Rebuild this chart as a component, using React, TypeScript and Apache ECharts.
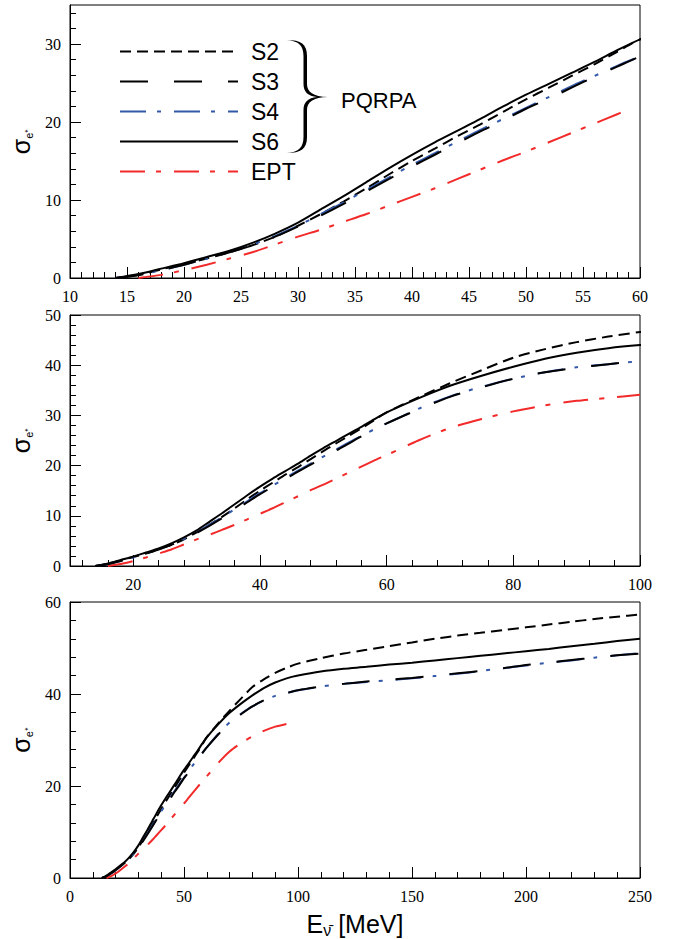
import React, { useEffect, useRef } from "react";
import * as echarts from "echarts";

// ---------------- data ----------------
const ENERGY = [14, 16, 18, 20, 22, 24, 26, 28, 30, 32, 34, 36, 38, 40, 42, 44, 46, 48, 50, 52, 54, 56, 58, 60, 65, 70, 75, 80, 85, 90, 95, 100, 110, 120, 130, 140, 150, 160, 170, 180, 190, 200, 210, 220, 230, 240, 250];
const S2 = [0, 0.4, 1.1, 1.8, 2.5, 3.3, 4.2, 5.3, 6.7, 8.2, 9.8, 11.5, 13.3, 15.0, 16.6, 18.2, 19.7, 21.3, 22.9, 24.4, 25.9, 27.4, 29.0, 30.6, 33.6, 36.4, 39.0, 41.5, 43.2, 44.6, 45.7, 46.6, 47.8, 48.8, 49.6, 50.4, 51.2, 52.0, 52.7, 53.3, 53.9, 54.5, 55.1, 55.7, 56.3, 56.8, 57.3];
const S3 = [0, 0.35, 1.0, 1.7, 2.5, 3.3, 4.2, 5.3, 6.6, 8.0, 9.5, 11.1, 12.7, 14.3, 15.8, 17.3, 18.8, 20.2, 21.7, 23.0, 24.4, 25.8, 27.1, 28.4, 31.2, 33.7, 35.6, 37.3, 38.6, 39.5, 40.2, 40.8, 41.6, 42.2, 42.7, 43.1, 43.5, 44.0, 44.5, 45.0, 45.6, 46.3, 46.8, 47.4, 47.9, 48.4, 48.8];
const S4 = [0, 0.4, 1.0, 1.7, 2.5, 3.4, 4.3, 5.4, 6.7, 8.2, 9.7, 11.3, 12.9, 14.5, 16.0, 17.5, 19.0, 20.4, 21.8, 23.2, 24.6, 25.9, 27.2, 28.4, 31.3, 33.8, 35.7, 37.3, 38.6, 39.6, 40.2, 40.8, 41.6, 42.2, 42.6, 43.0, 43.4, 43.9, 44.4, 45.0, 45.6, 46.2, 46.8, 47.3, 47.9, 48.4, 48.9];
const S6 = [0, 0.5, 1.2, 1.9, 2.7, 3.5, 4.5, 5.7, 7.1, 8.8, 10.5, 12.3, 14.1, 15.8, 17.4, 18.9, 20.4, 22.0, 23.5, 24.9, 26.3, 27.7, 29.2, 30.6, 33.4, 35.9, 37.9, 39.7, 41.3, 42.5, 43.4, 44.0, 44.9, 45.5, 45.9, 46.4, 46.8, 47.3, 47.8, 48.3, 48.8, 49.3, 49.8, 50.4, 50.9, 51.5, 52.0];
const EPT_ENERGY = [16, 18, 20, 22, 24, 26, 28, 30, 32, 34, 36, 38, 40, 42, 44, 46, 48, 50, 52, 54, 56, 58, 58.5, 60, 65, 70, 75, 80, 85, 90, 95, 100];
const EPT = [0, 0.4, 1.0, 1.7, 2.5, 3.3, 4.3, 5.3, 6.2, 7.2, 8.2, 9.3, 10.4, 11.5, 12.7, 13.9, 15.1, 16.2, 17.4, 18.6, 19.8, 21.0, 21.3, 22.1, 25.0, 27.5, 29.3, 30.8, 32.0, 32.9, 33.5, 34.1];
const EPT_END = [58.5, 100, 95];

const X_RANGE = [[10, 60], [10, 100], [0, 250]];
const Y_RANGE = [[0, 35], [0, 50], [0, 60]];
const X_MAJOR = [[10, 15, 20, 25, 30, 35, 40, 45, 50, 55, 60], [20, 40, 60, 80, 100], [0, 50, 100, 150, 200, 250]];
const Y_MAJOR = [[0, 10, 20, 30], [0, 10, 20, 30, 40, 50], [0, 20, 40, 60]];
const X_MINOR_STEP = [[10, 60, 1], [12, 100, 4], [0, 250, 10]];
const Y_MINOR_STEP = [[0, 34, 2], [0, 50, 2], [0, 60, 4]];

const LEGEND_NAMES = ["S2", "S3", "S4", "S6", "EPT"];

// ---------------- styles ----------------
const GRIDS = [
  { top: 5, height: 273 },
  { top: 315, height: 251 },
  { top: 602, height: 276 },
];
const SERIF = "'Liberation Serif', 'DejaVu Serif', 'Times New Roman', serif";
const SANS = "Liberation Sans";
const BLUE = "#3358a8";
const RED = "#f22a2a";

const BRACE_D =
  "M0 0 C14 0 20 4 20 16 L20 44 C20 52 26 56.5 41 57 C26 57.5 20 62 20 70 L20 97 C20 109 14 113 0 113 " +
  "C11 112 16.5 108 16.5 97 L16.5 70 C16.5 62 21 58 30 57 C21 56 16.5 52 16.5 44 L16.5 16 C16.5 5 11 1 0 0 Z";

let braceRegistered = false;

function steps(a: number, b: number, s: number): number[] {
  const r: number[] = [];
  for (let v = a; v <= b + 1e-9; v += s) r.push(+v.toFixed(6));
  return r;
}

function buildOption() {
  const grid: any[] = [];
  const xAxis: any[] = [];
  const yAxis: any[] = [];
  const series: any[] = [];

  const curves = [
    { name: "S2", values: S2, color: "#000", dash: [11, 6] },
    { name: "S3", values: S3, color: "#000", dash: [28, 26] },
    { name: "S4", values: S4, color: BLUE, dash: [26, 11, 4, 13] },
    { name: "S6", values: S6, color: "#000", dash: "solid" },
  ];

  for (let p = 0; p < 3; p++) {
    grid.push({
      left: 70,
      width: 570,
      top: GRIDS[p].top,
      height: GRIDS[p].height,
      show: true,
      borderColor: "#000",
      borderWidth: 1,
    });
    const xm = X_MINOR_STEP[p];
    const ym = Y_MINOR_STEP[p];
    const labelBase = { fontFamily: SERIF, fontSize: 16, color: "#000" };
    xAxis.push({
      gridIndex: p,
      type: "value",
      min: X_RANGE[p][0],
      max: X_RANGE[p][1],
      position: "bottom",
      axisLine: { show: true, onZero: false, lineStyle: { color: "#000", width: 1 } },
      axisTick: { show: true, inside: true, length: 11, customValues: X_MAJOR[p], lineStyle: { color: "#000", width: 1 } },
      axisLabel: { show: true, customValues: X_MAJOR[p], margin: 10, ...labelBase },
      splitLine: { show: false },
      ...(p === 2
        ? {
            name: "{e|E}{sub|ν̄}{e| [MeV]}",
            nameLocation: "middle",
            nameGap: 32,
            nameTextStyle: {
              color: "#000",
              rich: {
                e: { fontFamily: SANS, fontSize: 25, color: "#000", lineHeight: 28 },
                sub: { fontFamily: SANS, fontSize: 16, color: "#000", verticalAlign: "bottom", lineHeight: 28 },
              },
            },
          }
        : {}),
    });
    xAxis.push({
      gridIndex: p,
      type: "value",
      min: X_RANGE[p][0],
      max: X_RANGE[p][1],
      position: "bottom",
      axisLine: { show: false, onZero: false },
      axisTick: { show: true, inside: true, length: 6, customValues: steps(xm[0], xm[1], xm[2]), lineStyle: { color: "#000", width: 1 } },
      axisLabel: { show: false },
      splitLine: { show: false },
    });
    yAxis.push({
      gridIndex: p,
      type: "value",
      min: Y_RANGE[p][0],
      max: Y_RANGE[p][1],
      position: "left",
      axisLine: { show: true, onZero: false, lineStyle: { color: "#000", width: 1 } },
      axisTick: { show: true, inside: true, length: 11, customValues: Y_MAJOR[p], lineStyle: { color: "#000", width: 1 } },
      axisLabel: { show: true, customValues: Y_MAJOR[p], margin: 9, ...labelBase },
      splitLine: { show: false },
      name: "{s|σ}{sub|e⁺}",
      nameLocation: "middle",
      nameRotate: 90,
      nameGap: 36,
      nameTextStyle: {
        color: "#000",
        rich: {
          s: { fontFamily: SANS, fontSize: 25, color: "#000", lineHeight: 26 },
          sub: { fontFamily: SANS, fontSize: 11, color: "#000", verticalAlign: "bottom", lineHeight: 26 },
        },
      },
    });
    yAxis.push({
      gridIndex: p,
      type: "value",
      min: Y_RANGE[p][0],
      max: Y_RANGE[p][1],
      position: "left",
      axisLine: { show: false, onZero: false },
      axisTick: { show: true, inside: true, length: 6, customValues: steps(ym[0], ym[1], ym[2]), lineStyle: { color: "#000", width: 1 } },
      axisLabel: { show: false },
      splitLine: { show: false },
    });

    for (const c of curves) {
      series.push({
        type: "line",
        name: c.name,
        xAxisIndex: 2 * p,
        yAxisIndex: 2 * p,
        data: ENERGY.map((e, i) => [e, c.values[i]]),
        symbol: "none",
        showSymbol: false,
        smooth: 0.25,
        clip: true,
        lineStyle: { color: c.color, width: 2, type: c.dash },
        itemStyle: { color: c.color },
        z: c.name === "S6" ? 3 : c.name === "S3" ? 4 : 2,
      });
    }
    series.push({
      type: "line",
      name: "EPT",
      xAxisIndex: 2 * p,
      yAxisIndex: 2 * p,
      data: EPT_ENERGY.map((e, i) => [e, EPT[i]]).filter((d) => d[0] <= EPT_END[p]),
      symbol: "none",
      showSymbol: false,
      smooth: 0.25,
      clip: true,
      lineStyle: { color: RED, width: 2, type: [25, 11, 5, 13] },
      itemStyle: { color: RED },
      z: 2,
    });
  }

  return {
    animation: false,
    backgroundColor: "#fff",
    grid,
    xAxis,
    yAxis,
    series,
    legend: {
      show: true,
      orient: "vertical",
      left: 114,
      top: 35,
      itemWidth: 118,
      itemHeight: 14,
      itemGap: 7,
      selectedMode: false,
      data: LEGEND_NAMES,
      itemStyle: { opacity: 0 },
      textStyle: { fontFamily: SANS, fontSize: 23, color: "#000", padding: [0, 0, 0, 8] },
    },
    graphic: [
      { type: "brace", x: 287, y: 40, style: { fill: "#000" }, z: 10 },
      {
        type: "text",
        x: 341,
        y: 100,
        style: { text: "PQRPA", fontFamily: SANS, fontSize: 22, fill: "#000", align: "left", verticalAlign: "middle" },
        z: 10,
      },
    ],
  };
}

export default function App() {
  const ref = useRef<HTMLDivElement>(null);
  useEffect(() => {
    document.body.style.margin = "0";
    if (!braceRegistered) {
      echarts.graphic.registerShape("brace", echarts.graphic.extendPath(BRACE_D, {}));
      braceRegistered = true;
    }
    const chart = echarts.init(ref.current!, null, { renderer: "svg" });
    chart.setOption(buildOption() as any);
    return () => chart.dispose();
  }, []);
  return <div ref={ref} style={{ width: 674, height: 939 }} />;
}
